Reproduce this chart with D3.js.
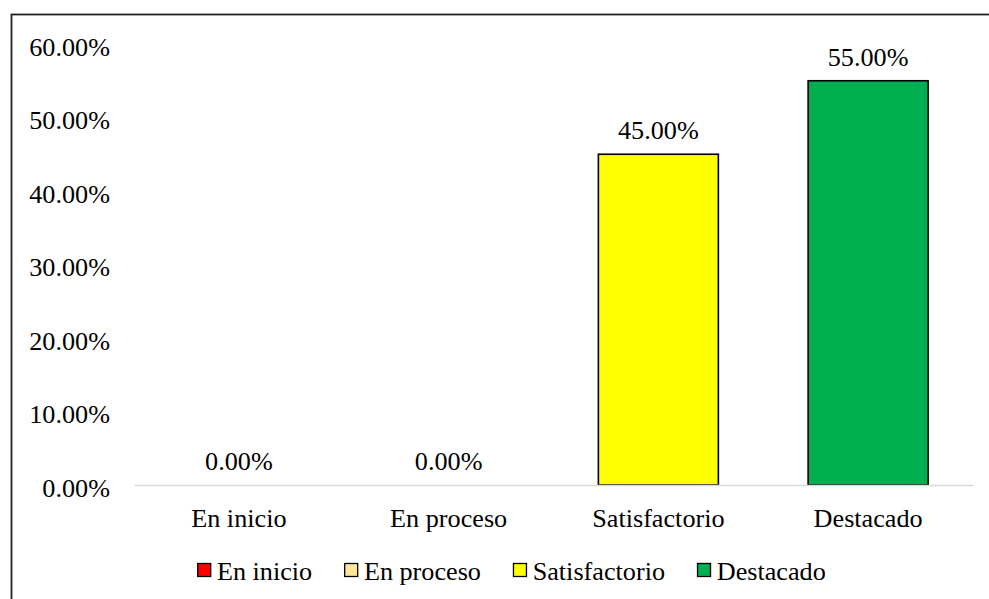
<!DOCTYPE html>
<html>
<head>
<meta charset="utf-8">
<script src="https://cdn.jsdelivr.net/npm/d3@7"></script>
<style>
  html, body { margin: 0; padding: 0; background: #fff; }
  svg { display: block; }
</style>
</head>
<body>
<svg id="chart" width="989" height="599"></svg>
<script>
const categories = ["En inicio", "En proceso", "Satisfactorio", "Destacado"];
const values = [0.00, 0.00, 0.45, 0.55];
const colors = ["#FF0000", "#FFE699", "#FFFF00", "#00B050"];
const yTicks = [0, 0.1, 0.2, 0.3, 0.4, 0.5, 0.6];

const svg = d3.select("#chart");
const FONT = "'Liberation Serif', 'Times New Roman', serif";
const fontSize = 26.2;

// chart frame (extends past the window on the right and bottom)
svg.append("rect")
  .attr("x", 11.5).attr("y", 14.5)
  .attr("width", 1000).attr("height", 600)
  .attr("fill", "none").attr("stroke", "#222").attr("stroke-width", 1.8);

const x = d3.scaleBand().domain(categories).range([134, 973])
  .paddingInner(0.428).paddingOuter(0.214);
const y = d3.scaleLinear().domain([0, 0.6]).range([485, 44]);
const pct = d3.format(".2%");

// y axis labels
const yAxis = d3.axisLeft(y).tickValues(yTicks).tickFormat(pct).tickSize(0).tickPadding(0);
const yg = svg.append("g").attr("transform", "translate(110,0)").call(yAxis);
yg.attr("font-family", FONT).attr("font-size", fontSize);
yg.select(".domain").remove();
yg.selectAll("text").attr("fill", "#000").attr("dy", null).attr("y", 11).attr("text-anchor", "end");

// bars
svg.append("g").selectAll("rect").data(categories).join("rect")
  .attr("x", d => x(d))
  .attr("y", (d, i) => y(values[i]))
  .attr("width", x.bandwidth())
  .attr("height", (d, i) => y(0) - y(values[i]))
  .attr("fill", (d, i) => colors[i])
  .attr("stroke", "#000").attr("stroke-width", (d, i) => values[i] > 0 ? 1.6 : 0);

// baseline + category labels
const xAxis = d3.axisBottom(x).tickSize(0).tickPadding(0);
const xg = svg.append("g").attr("transform", `translate(0,${y(0)})`).call(xAxis);
xg.attr("font-family", FONT).attr("font-size", fontSize);
xg.select(".domain").attr("stroke", "#D9D9D9").attr("stroke-width", 1.5);
xg.selectAll("text").attr("fill", "#000").attr("dy", null).attr("y", 42);

// data labels
svg.append("g").attr("font-family", FONT).attr("font-size", fontSize)
  .selectAll("text").data(categories).join("text")
  .attr("x", d => x(d) + x.bandwidth() / 2)
  .attr("y", (d, i) => y(values[i]) - 15)
  .attr("text-anchor", "middle")
  .attr("fill", "#000")
  .text((d, i) => pct(values[i]));

// legend
const legend = svg.append("g").attr("font-family", FONT).attr("font-size", fontSize);
const items = legend.selectAll("g").data(categories).join("g");
items.append("rect")
  .attr("width", 13).attr("height", 13)
  .attr("y", 563.5)
  .attr("fill", (d, i) => colors[i])
  .attr("stroke", "#000").attr("stroke-width", 1.3);
items.append("text").attr("y", 580).attr("fill", "#000").text(d => d);
let widths = [];
items.each(function() { widths.push(d3.select(this).select("text").node().getComputedTextLength()); });
const sq = 14, gapT = 5.7, gapI = 32;
const total = d3.sum(widths) + categories.length * (sq + gapT) + (categories.length - 1) * gapI;
let cx = 511.5 - total / 2;
items.each(function(d, i) {
  const g = d3.select(this);
  g.select("rect").attr("x", cx + 0.5);
  g.select("text").attr("x", cx + sq + gapT);
  cx += sq + gapT + widths[i] + gapI;
});
</script>
</body>
</html>
